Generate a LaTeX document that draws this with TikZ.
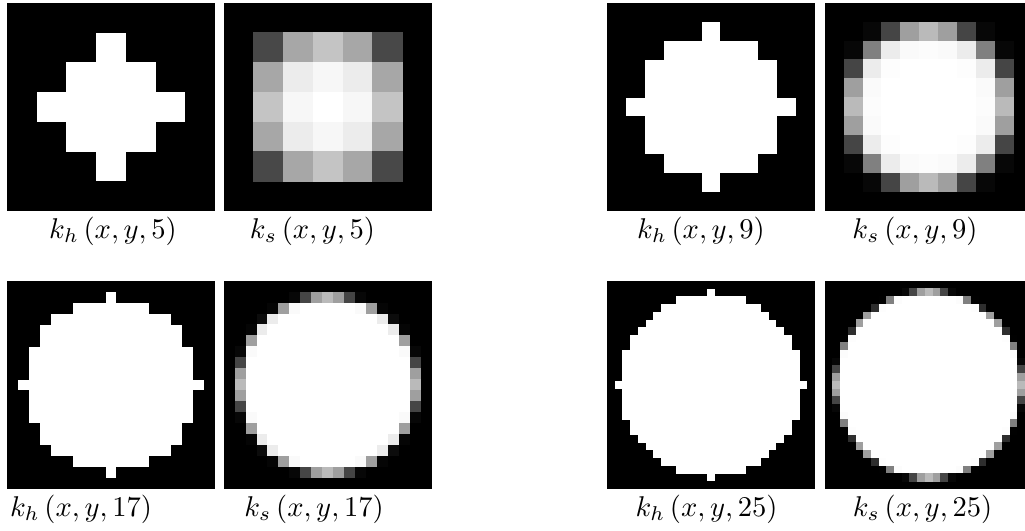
\documentclass[tikz,border=0pt]{standalone}
\usepackage{amsmath}
\tikzset{lbl/.style={inner sep=0pt, anchor=center, font=\normalsize}}
\newcommand{\hardpanel}[3]{%
  \pgfmathsetmacro\pS{208/(#3+2)}%
  \fill[black] (#1,#2) rectangle ++(208,208);
  \pgfmathtruncatemacro\pR{(#3-1)/2}%
  \pgfmathtruncatemacro\pmR{-\pR}%
  \foreach \j in {\pmR,...,\pR} {
    \pgfmathtruncatemacro\w{floor(sqrt(\pR*\pR-\j*\j)+0.0001)}
    \fill[white] ({#1+(\pR+1-\w)*\pS},{#2+(\pR+1+\j)*\pS}) rectangle ++({(2*\w+1)*\pS},\pS);
  }
}
\newcommand{\softpanel}[3]{%
  \pgfmathsetmacro\pS{208/(#3+2)}%
  \fill[black] (#1,#2) rectangle ++(208,208);
  \pgfmathtruncatemacro\pR{(#3-1)/2}%
  \pgfmathtruncatemacro\pmR{-\pR}%
  \pgfmathsetmacro\aZ{min(9,(\pR*\pR+2)/2)}%
  \pgfmathsetmacro\vZ{1/(1+exp(-\aZ))}%
  \foreach \j in {\pmR,...,\pR} {
    \foreach \i in {\pmR,...,\pR} {
      \pgfmathsetmacro\a{max(-9,min(9,(\pR*\pR+2-\i*\i-\j*\j)/2))}
      \pgfmathsetmacro\v{min(1,1/(1+exp(-\a))/\vZ)}
      \definecolor{cellc}{gray}{\v}
      \fill[cellc] ({#1+(\pR+1+\i)*\pS-0.3},{#2+(\pR+1+\j)*\pS-0.3}) rectangle ++({\pS+0.6},{\pS+0.6});
    }
  }
}
\begin{document}
\begin{tikzpicture}[x=0.35pt,y=-0.35pt]
\useasboundingbox (0,0) rectangle (1025,531);
\clip (0,0) rectangle (1025,531);
\fill[white] (0,0) rectangle (1025,531);
\hardpanel{7}{3}{5}
\softpanel{224}{3}{5}
\hardpanel{607}{3}{9}
\softpanel{825}{3}{9}
\hardpanel{7}{281}{17}
\softpanel{224}{281}{17}
\hardpanel{607}{281}{25}
\softpanel{825}{281}{25}
\node[lbl] (l1) at (113,231) {$k_h\left(x,y,5\right)$};
\node[lbl] (l2) at (312.5,231) {$k_s\left(x,y,5\right)$};
\node[lbl] (l3) at (701,231) {$k_h\left(x,y,9\right)$};
\node[lbl] (l4) at (915,231) {$k_s\left(x,y,9\right)$};
\node[lbl] (l5) at (81,509) {$k_h\left(x,y,17\right)$};
\node[lbl] (l6) at (314,509) {$k_s\left(x,y,17\right)$};
\node[lbl] (l7) at (706.5,509) {$k_h\left(x,y,25\right)$};
\node[lbl] (l8) at (922.5,509) {$k_s\left(x,y,25\right)$};
\end{tikzpicture}
\end{document}
